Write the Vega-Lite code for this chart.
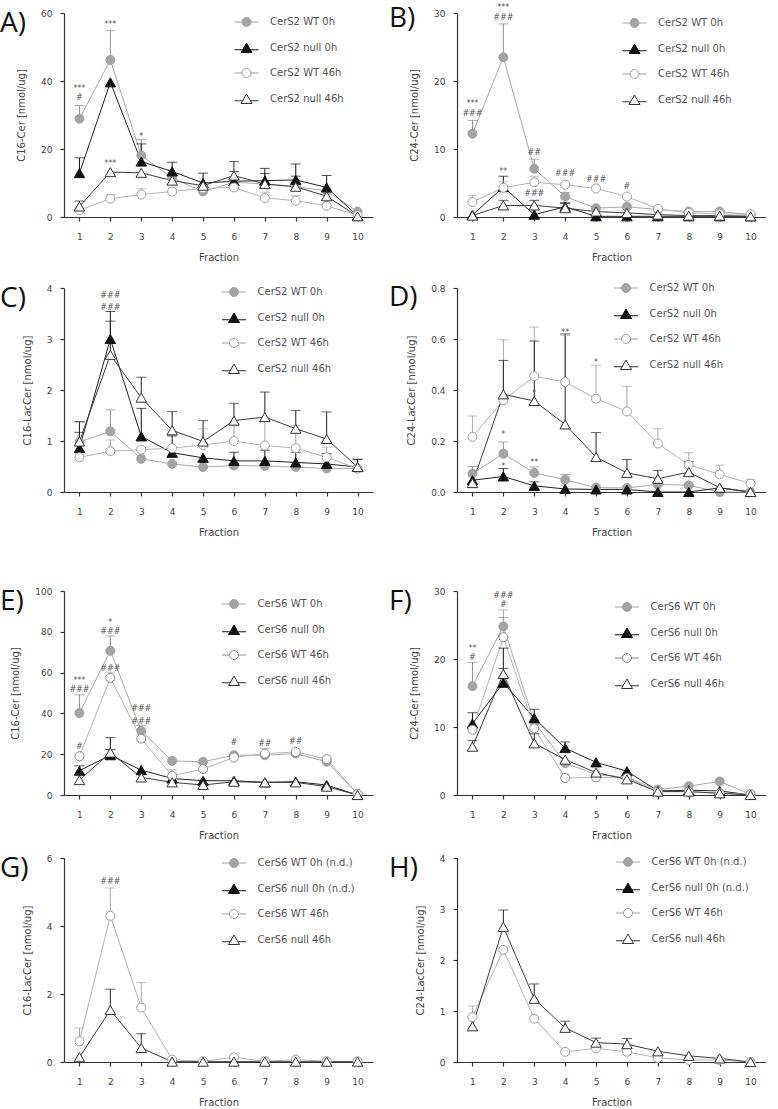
{
"$schema":"https://vega.github.io/schema/vega-lite/v6.json",
"padding":{"left":0,"top":4,"right":0,"bottom":0},
"datasets":{
"pts":[
{"p":"A","s":"CerS2 WT 0h","f":1,"y":28.9,"e":32.8},{"p":"A","s":"CerS2 WT 0h","f":2,"y":46.2,"e":54.8},{"p":"A","s":"CerS2 WT 0h","f":3,"y":18.1,"e":22.8},{"p":"A","s":"CerS2 WT 0h","f":4,"y":11.5},{"p":"A","s":"CerS2 WT 0h","f":5,"y":7.5},{"p":"A","s":"CerS2 WT 0h","f":6,"y":10.2},{"p":"A","s":"CerS2 WT 0h","f":7,"y":9.7},{"p":"A","s":"CerS2 WT 0h","f":8,"y":8.9},{"p":"A","s":"CerS2 WT 0h","f":9,"y":7.7},{"p":"A","s":"CerS2 WT 0h","f":10,"y":1.6},
{"p":"A","s":"CerS2 null 0h","f":1,"y":12.9,"e":17.4},{"p":"A","s":"CerS2 null 0h","f":2,"y":39.6},{"p":"A","s":"CerS2 null 0h","f":3,"y":16.3,"e":21.5},{"p":"A","s":"CerS2 null 0h","f":4,"y":13.4,"e":16.1},{"p":"A","s":"CerS2 null 0h","f":5,"y":10.0,"e":12.9},{"p":"A","s":"CerS2 null 0h","f":6,"y":10.5,"e":13.4},{"p":"A","s":"CerS2 null 0h","f":7,"y":10.7,"e":14.3},{"p":"A","s":"CerS2 null 0h","f":8,"y":10.9,"e":15.6},{"p":"A","s":"CerS2 null 0h","f":9,"y":8.7,"e":12.2},{"p":"A","s":"CerS2 null 0h","f":10,"y":0.3},
{"p":"A","s":"CerS2 WT 46h","f":1,"y":2.0},{"p":"A","s":"CerS2 WT 46h","f":2,"y":5.4,"e":6.6},{"p":"A","s":"CerS2 WT 46h","f":3,"y":6.6,"e":8.3},{"p":"A","s":"CerS2 WT 46h","f":4,"y":7.5},{"p":"A","s":"CerS2 WT 46h","f":5,"y":8.4},{"p":"A","s":"CerS2 WT 46h","f":6,"y":8.7},{"p":"A","s":"CerS2 WT 46h","f":7,"y":5.6,"e":7.3},{"p":"A","s":"CerS2 WT 46h","f":8,"y":4.8,"e":6.3},{"p":"A","s":"CerS2 WT 46h","f":9,"y":3.3},{"p":"A","s":"CerS2 WT 46h","f":10,"y":0.5},
{"p":"A","s":"CerS2 null 46h","f":1,"y":3.1,"e":4.7},{"p":"A","s":"CerS2 null 46h","f":2,"y":13.2},{"p":"A","s":"CerS2 null 46h","f":3,"y":13.0},{"p":"A","s":"CerS2 null 46h","f":4,"y":10.7},{"p":"A","s":"CerS2 null 46h","f":5,"y":9.2},{"p":"A","s":"CerS2 null 46h","f":6,"y":12.2,"e":16.3},{"p":"A","s":"CerS2 null 46h","f":7,"y":9.7,"e":12.8},{"p":"A","s":"CerS2 null 46h","f":8,"y":8.9,"e":12.0},{"p":"A","s":"CerS2 null 46h","f":9,"y":6.1},{"p":"A","s":"CerS2 null 46h","f":10,"y":0.2},

{"p":"B","s":"CerS2 WT 0h","f":1,"y":12.25,"e":14.2},{"p":"B","s":"CerS2 WT 0h","f":2,"y":23.5,"e":28.4},{"p":"B","s":"CerS2 WT 0h","f":3,"y":7.1,"e":8.5},{"p":"B","s":"CerS2 WT 0h","f":4,"y":3.0,"e":3.6},{"p":"B","s":"CerS2 WT 0h","f":5,"y":1.3},{"p":"B","s":"CerS2 WT 0h","f":6,"y":1.5},{"p":"B","s":"CerS2 WT 0h","f":7,"y":1.1},{"p":"B","s":"CerS2 WT 0h","f":8,"y":0.8},{"p":"B","s":"CerS2 WT 0h","f":9,"y":0.8},{"p":"B","s":"CerS2 WT 0h","f":10,"y":0.35},
{"p":"B","s":"CerS2 null 0h","f":1,"y":0.3},{"p":"B","s":"CerS2 null 0h","f":2,"y":4.4,"e":6.0},{"p":"B","s":"CerS2 null 0h","f":3,"y":0.35},{"p":"B","s":"CerS2 null 0h","f":4,"y":1.5,"e":2.1},{"p":"B","s":"CerS2 null 0h","f":5,"y":0.1},{"p":"B","s":"CerS2 null 0h","f":6,"y":0.1},{"p":"B","s":"CerS2 null 0h","f":7,"y":0.1},{"p":"B","s":"CerS2 null 0h","f":8,"y":0.1},{"p":"B","s":"CerS2 null 0h","f":9,"y":0.1},{"p":"B","s":"CerS2 null 0h","f":10,"y":0.1},
{"p":"B","s":"CerS2 WT 46h","f":1,"y":2.2,"e":3.2},{"p":"B","s":"CerS2 WT 46h","f":2,"y":4.3,"e":5.2},{"p":"B","s":"CerS2 WT 46h","f":3,"y":5.1,"e":6.0},{"p":"B","s":"CerS2 WT 46h","f":4,"y":4.75},{"p":"B","s":"CerS2 WT 46h","f":5,"y":4.2},{"p":"B","s":"CerS2 WT 46h","f":6,"y":3.0},{"p":"B","s":"CerS2 WT 46h","f":7,"y":1.2},{"p":"B","s":"CerS2 WT 46h","f":8,"y":0.6},{"p":"B","s":"CerS2 WT 46h","f":9,"y":0.45},{"p":"B","s":"CerS2 WT 46h","f":10,"y":0.4},
{"p":"B","s":"CerS2 null 46h","f":1,"y":0.2},{"p":"B","s":"CerS2 null 46h","f":2,"y":1.7,"e":2.45},{"p":"B","s":"CerS2 null 46h","f":3,"y":1.7,"e":2.45},{"p":"B","s":"CerS2 null 46h","f":4,"y":1.3,"e":2.0},{"p":"B","s":"CerS2 null 46h","f":5,"y":0.8},{"p":"B","s":"CerS2 null 46h","f":6,"y":0.6},{"p":"B","s":"CerS2 null 46h","f":7,"y":0.35},{"p":"B","s":"CerS2 null 46h","f":8,"y":0.2},{"p":"B","s":"CerS2 null 46h","f":9,"y":0.2},{"p":"B","s":"CerS2 null 46h","f":10,"y":0.1},

{"p":"C","s":"CerS2 WT 0h","f":1,"y":0.98,"e":1.37},{"p":"C","s":"CerS2 WT 0h","f":2,"y":1.19,"e":1.61},{"p":"C","s":"CerS2 WT 0h","f":3,"y":0.65},{"p":"C","s":"CerS2 WT 0h","f":4,"y":0.55},{"p":"C","s":"CerS2 WT 0h","f":5,"y":0.49},{"p":"C","s":"CerS2 WT 0h","f":6,"y":0.52},{"p":"C","s":"CerS2 WT 0h","f":7,"y":0.51},{"p":"C","s":"CerS2 WT 0h","f":8,"y":0.49},{"p":"C","s":"CerS2 WT 0h","f":9,"y":0.46},{"p":"C","s":"CerS2 WT 0h","f":10,"y":0.46},
{"p":"C","s":"CerS2 null 0h","f":1,"y":0.86,"e":1.17},{"p":"C","s":"CerS2 null 0h","f":2,"y":3.0,"e":3.54},{"p":"C","s":"CerS2 null 0h","f":3,"y":1.09,"e":1.64},{"p":"C","s":"CerS2 null 0h","f":4,"y":0.77,"e":1.1},{"p":"C","s":"CerS2 null 0h","f":5,"y":0.67},{"p":"C","s":"CerS2 null 0h","f":6,"y":0.61,"e":0.78},{"p":"C","s":"CerS2 null 0h","f":7,"y":0.61,"e":0.82},{"p":"C","s":"CerS2 null 0h","f":8,"y":0.58,"e":0.78},{"p":"C","s":"CerS2 null 0h","f":9,"y":0.55,"e":0.75},{"p":"C","s":"CerS2 null 0h","f":10,"y":0.49,"e":0.64},
{"p":"C","s":"CerS2 WT 46h","f":1,"y":0.68},{"p":"C","s":"CerS2 WT 46h","f":2,"y":0.8,"e":1.02},{"p":"C","s":"CerS2 WT 46h","f":3,"y":0.83,"e":0.87},{"p":"C","s":"CerS2 WT 46h","f":4,"y":0.86},{"p":"C","s":"CerS2 WT 46h","f":5,"y":0.92,"e":1.24},{"p":"C","s":"CerS2 WT 46h","f":6,"y":1.0,"e":1.3},{"p":"C","s":"CerS2 WT 46h","f":7,"y":0.91,"e":1.38},{"p":"C","s":"CerS2 WT 46h","f":8,"y":0.86,"e":1.3},{"p":"C","s":"CerS2 WT 46h","f":9,"y":0.68,"e":0.88},{"p":"C","s":"CerS2 WT 46h","f":10,"y":0.46},
{"p":"C","s":"CerS2 null 46h","f":1,"y":0.99,"e":1.38},{"p":"C","s":"CerS2 null 46h","f":2,"y":2.69,"e":3.35},{"p":"C","s":"CerS2 null 46h","f":3,"y":1.85,"e":2.25},{"p":"C","s":"CerS2 null 46h","f":4,"y":1.21,"e":1.58},{"p":"C","s":"CerS2 null 46h","f":5,"y":0.99,"e":1.4},{"p":"C","s":"CerS2 null 46h","f":6,"y":1.4,"e":1.74},{"p":"C","s":"CerS2 null 46h","f":7,"y":1.47,"e":1.96},{"p":"C","s":"CerS2 null 46h","f":8,"y":1.24,"e":1.6},{"p":"C","s":"CerS2 null 46h","f":9,"y":1.04,"e":1.57},{"p":"C","s":"CerS2 null 46h","f":10,"y":0.49,"e":0.64},

{"p":"D","s":"CerS2 WT 0h","f":1,"y":0.072,"e":0.1},{"p":"D","s":"CerS2 WT 0h","f":2,"y":0.15,"e":0.196},{"p":"D","s":"CerS2 WT 0h","f":3,"y":0.075,"e":0.098},{"p":"D","s":"CerS2 WT 0h","f":4,"y":0.048,"e":0.069},{"p":"D","s":"CerS2 WT 0h","f":5,"y":0.017},{"p":"D","s":"CerS2 WT 0h","f":6,"y":0.016},{"p":"D","s":"CerS2 WT 0h","f":7,"y":0.03},{"p":"D","s":"CerS2 WT 0h","f":8,"y":0.026},{"p":"D","s":"CerS2 WT 0h","f":9,"y":0},{"p":"D","s":"CerS2 WT 0h","f":10,"y":0},
{"p":"D","s":"CerS2 null 0h","f":1,"y":0.046},{"p":"D","s":"CerS2 null 0h","f":2,"y":0.061,"e":0.092},{"p":"D","s":"CerS2 null 0h","f":3,"y":0.024,"e":0.04},{"p":"D","s":"CerS2 null 0h","f":4,"y":0.012},{"p":"D","s":"CerS2 null 0h","f":5,"y":0.01},{"p":"D","s":"CerS2 null 0h","f":6,"y":0.01},{"p":"D","s":"CerS2 null 0h","f":7,"y":0},{"p":"D","s":"CerS2 null 0h","f":8,"y":0},{"p":"D","s":"CerS2 null 0h","f":9,"y":0.016},{"p":"D","s":"CerS2 null 0h","f":10,"y":0},
{"p":"D","s":"CerS2 WT 46h","f":1,"y":0.216,"e":0.298},{"p":"D","s":"CerS2 WT 46h","f":2,"y":0.36,"e":0.597},{"p":"D","s":"CerS2 WT 46h","f":3,"y":0.454,"e":0.647},{"p":"D","s":"CerS2 WT 46h","f":4,"y":0.431,"e":0.614},{"p":"D","s":"CerS2 WT 46h","f":5,"y":0.366,"e":0.497},{"p":"D","s":"CerS2 WT 46h","f":6,"y":0.316,"e":0.414},{"p":"D","s":"CerS2 WT 46h","f":7,"y":0.19,"e":0.248},{"p":"D","s":"CerS2 WT 46h","f":8,"y":0.107,"e":0.154},{"p":"D","s":"CerS2 WT 46h","f":9,"y":0.069,"e":0.105},{"p":"D","s":"CerS2 WT 46h","f":10,"y":0.033,"e":0.05},
{"p":"D","s":"CerS2 null 46h","f":1,"y":0.035},{"p":"D","s":"CerS2 null 46h","f":2,"y":0.383,"e":0.516},{"p":"D","s":"CerS2 null 46h","f":3,"y":0.357,"e":0.592},{"p":"D","s":"CerS2 null 46h","f":4,"y":0.265,"e":0.62},{"p":"D","s":"CerS2 null 46h","f":5,"y":0.137,"e":0.233},{"p":"D","s":"CerS2 null 46h","f":6,"y":0.075,"e":0.127},{"p":"D","s":"CerS2 null 46h","f":7,"y":0.052,"e":0.085},{"p":"D","s":"CerS2 null 46h","f":8,"y":0.078,"e":0.12},{"p":"D","s":"CerS2 null 46h","f":9,"y":0.017},{"p":"D","s":"CerS2 null 46h","f":10,"y":0},

{"p":"E","s":"CerS6 WT 0h","f":1,"y":40.2,"e":49.1},{"p":"E","s":"CerS6 WT 0h","f":2,"y":70.7,"e":78},{"p":"E","s":"CerS6 WT 0h","f":3,"y":31.4,"e":34.1},{"p":"E","s":"CerS6 WT 0h","f":4,"y":16.7},{"p":"E","s":"CerS6 WT 0h","f":5,"y":16.3},{"p":"E","s":"CerS6 WT 0h","f":6,"y":19.5},{"p":"E","s":"CerS6 WT 0h","f":7,"y":19.5},{"p":"E","s":"CerS6 WT 0h","f":8,"y":20.3},{"p":"E","s":"CerS6 WT 0h","f":9,"y":16.3},{"p":"E","s":"CerS6 WT 0h","f":10,"y":0.5},
{"p":"E","s":"CerS6 null 0h","f":1,"y":11.9,"e":14.3},{"p":"E","s":"CerS6 null 0h","f":2,"y":19.5,"e":28.1},{"p":"E","s":"CerS6 null 0h","f":3,"y":12.2},{"p":"E","s":"CerS6 null 0h","f":4,"y":8.1},{"p":"E","s":"CerS6 null 0h","f":5,"y":7.0},{"p":"E","s":"CerS6 null 0h","f":6,"y":7.0},{"p":"E","s":"CerS6 null 0h","f":7,"y":6.2},{"p":"E","s":"CerS6 null 0h","f":8,"y":6.5},{"p":"E","s":"CerS6 null 0h","f":9,"y":4.9},{"p":"E","s":"CerS6 null 0h","f":10,"y":0},
{"p":"E","s":"CerS6 WT 46h","f":1,"y":19.0},{"p":"E","s":"CerS6 WT 46h","f":2,"y":57.4,"e":60.2},{"p":"E","s":"CerS6 WT 46h","f":3,"y":27.6},{"p":"E","s":"CerS6 WT 46h","f":4,"y":9.4,"e":12.5},{"p":"E","s":"CerS6 WT 46h","f":5,"y":12.7},{"p":"E","s":"CerS6 WT 46h","f":6,"y":18.4},{"p":"E","s":"CerS6 WT 46h","f":7,"y":20.3,"e":22.8},{"p":"E","s":"CerS6 WT 46h","f":8,"y":21.1},{"p":"E","s":"CerS6 WT 46h","f":9,"y":17.6},{"p":"E","s":"CerS6 WT 46h","f":10,"y":0.5},
{"p":"E","s":"CerS6 null 46h","f":1,"y":7.3},{"p":"E","s":"CerS6 null 46h","f":2,"y":20.8,"e":22.3},{"p":"E","s":"CerS6 null 46h","f":3,"y":8.6},{"p":"E","s":"CerS6 null 46h","f":4,"y":6.2},{"p":"E","s":"CerS6 null 46h","f":5,"y":4.9},{"p":"E","s":"CerS6 null 46h","f":6,"y":6.5},{"p":"E","s":"CerS6 null 46h","f":7,"y":6.2},{"p":"E","s":"CerS6 null 46h","f":8,"y":6.2},{"p":"E","s":"CerS6 null 46h","f":9,"y":4.1},{"p":"E","s":"CerS6 null 46h","f":10,"y":0},

{"p":"F","s":"CerS6 WT 0h","f":1,"y":16.0,"e":19.5},{"p":"F","s":"CerS6 WT 0h","f":2,"y":24.8,"e":26.1},{"p":"F","s":"CerS6 WT 0h","f":3,"y":10.7},{"p":"F","s":"CerS6 WT 0h","f":4,"y":4.7},{"p":"F","s":"CerS6 WT 0h","f":5,"y":3.0},{"p":"F","s":"CerS6 WT 0h","f":6,"y":2.6},{"p":"F","s":"CerS6 WT 0h","f":7,"y":0.8},{"p":"F","s":"CerS6 WT 0h","f":8,"y":1.3},{"p":"F","s":"CerS6 WT 0h","f":9,"y":2.0},{"p":"F","s":"CerS6 WT 0h","f":10,"y":0.1},
{"p":"F","s":"CerS6 null 0h","f":1,"y":10.5,"e":12.1},{"p":"F","s":"CerS6 null 0h","f":2,"y":16.5,"e":21.6},{"p":"F","s":"CerS6 null 0h","f":3,"y":11.3,"e":12.6},{"p":"F","s":"CerS6 null 0h","f":4,"y":6.9,"e":7.8},{"p":"F","s":"CerS6 null 0h","f":5,"y":4.8},{"p":"F","s":"CerS6 null 0h","f":6,"y":3.5},{"p":"F","s":"CerS6 null 0h","f":7,"y":0.6},{"p":"F","s":"CerS6 null 0h","f":8,"y":0.7},{"p":"F","s":"CerS6 null 0h","f":9,"y":0.6},{"p":"F","s":"CerS6 null 0h","f":10,"y":0},
{"p":"F","s":"CerS6 WT 46h","f":1,"y":9.6},{"p":"F","s":"CerS6 WT 46h","f":2,"y":23.2,"e":27.2},{"p":"F","s":"CerS6 WT 46h","f":3,"y":9.8},{"p":"F","s":"CerS6 WT 46h","f":4,"y":2.5,"e":3.1},{"p":"F","s":"CerS6 WT 46h","f":5,"y":2.6},{"p":"F","s":"CerS6 WT 46h","f":6,"y":2.5},{"p":"F","s":"CerS6 WT 46h","f":7,"y":0.5},{"p":"F","s":"CerS6 WT 46h","f":8,"y":0.5},{"p":"F","s":"CerS6 WT 46h","f":9,"y":0.25},{"p":"F","s":"CerS6 WT 46h","f":10,"y":0.1},
{"p":"F","s":"CerS6 null 46h","f":1,"y":7.1,"e":8.0},{"p":"F","s":"CerS6 null 46h","f":2,"y":17.8,"e":18.6},{"p":"F","s":"CerS6 null 46h","f":3,"y":7.6,"e":9.0},{"p":"F","s":"CerS6 null 46h","f":4,"y":5.2},{"p":"F","s":"CerS6 null 46h","f":5,"y":3.3},{"p":"F","s":"CerS6 null 46h","f":6,"y":2.3},{"p":"F","s":"CerS6 null 46h","f":7,"y":0.5},{"p":"F","s":"CerS6 null 46h","f":8,"y":0.5},{"p":"F","s":"CerS6 null 46h","f":9,"y":0.25},{"p":"F","s":"CerS6 null 46h","f":10,"y":0},

{"p":"G","s":"CerS6 WT 46h","f":1,"y":0.61,"e":1.0},{"p":"G","s":"CerS6 WT 46h","f":2,"y":4.3,"e":5.12},{"p":"G","s":"CerS6 WT 46h","f":3,"y":1.6,"e":2.34},{"p":"G","s":"CerS6 WT 46h","f":4,"y":0.07},{"p":"G","s":"CerS6 WT 46h","f":5,"y":0.02},{"p":"G","s":"CerS6 WT 46h","f":6,"y":0.14},{"p":"G","s":"CerS6 WT 46h","f":7,"y":0.02},{"p":"G","s":"CerS6 WT 46h","f":8,"y":0.07},{"p":"G","s":"CerS6 WT 46h","f":9,"y":0.02},{"p":"G","s":"CerS6 WT 46h","f":10,"y":0.02},
{"p":"G","s":"CerS6 null 46h","f":1,"y":0.14},{"p":"G","s":"CerS6 null 46h","f":2,"y":1.53,"e":2.14},{"p":"G","s":"CerS6 null 46h","f":3,"y":0.41,"e":0.83},{"p":"G","s":"CerS6 null 46h","f":4,"y":0.01},{"p":"G","s":"CerS6 null 46h","f":5,"y":0.01},{"p":"G","s":"CerS6 null 46h","f":6,"y":0.01},{"p":"G","s":"CerS6 null 46h","f":7,"y":0.01},{"p":"G","s":"CerS6 null 46h","f":8,"y":0.01},{"p":"G","s":"CerS6 null 46h","f":9,"y":0.01},{"p":"G","s":"CerS6 null 46h","f":10,"y":0.01},

{"p":"H","s":"CerS6 WT 46h","f":1,"y":0.88,"e":1.1},{"p":"H","s":"CerS6 WT 46h","f":2,"y":2.2},{"p":"H","s":"CerS6 WT 46h","f":3,"y":0.85},{"p":"H","s":"CerS6 WT 46h","f":4,"y":0.2},{"p":"H","s":"CerS6 WT 46h","f":5,"y":0.27},{"p":"H","s":"CerS6 WT 46h","f":6,"y":0.2},{"p":"H","s":"CerS6 WT 46h","f":7,"y":0.08},{"p":"H","s":"CerS6 WT 46h","f":8,"y":0.04},{"p":"H","s":"CerS6 WT 46h","f":9,"y":0.04},{"p":"H","s":"CerS6 WT 46h","f":10,"y":0},
{"p":"H","s":"CerS6 null 46h","f":1,"y":0.7},{"p":"H","s":"CerS6 null 46h","f":2,"y":2.65,"e":2.98},{"p":"H","s":"CerS6 null 46h","f":3,"y":1.24,"e":1.53},{"p":"H","s":"CerS6 null 46h","f":4,"y":0.67,"e":0.8},{"p":"H","s":"CerS6 null 46h","f":5,"y":0.38,"e":0.47},{"p":"H","s":"CerS6 null 46h","f":6,"y":0.35,"e":0.46},{"p":"H","s":"CerS6 null 46h","f":7,"y":0.21},{"p":"H","s":"CerS6 null 46h","f":8,"y":0.12},{"p":"H","s":"CerS6 null 46h","f":9,"y":0.07},{"p":"H","s":"CerS6 null 46h","f":10,"y":0}
],
"ann":[
{"p":"A","f":1,"y":37.6,"t":"***"},{"p":"A","f":1,"y":35.0,"t":"#"},{"p":"A","f":2,"y":56.5,"t":"***"},{"p":"A","f":2,"y":15.5,"t":"***"},{"p":"A","f":3,"y":23.5,"t":"*"},
{"p":"B","f":1,"y":16.6,"t":"***"},{"p":"B","f":1,"y":15.1,"t":"###"},{"p":"B","f":2,"y":30.7,"t":"***"},{"p":"B","f":2,"y":29.3,"t":"###"},{"p":"B","f":2,"y":6.6,"t":"**"},{"p":"B","f":3,"y":9.4,"t":"##"},{"p":"B","f":3,"y":3.4,"t":"###"},{"p":"B","f":4,"y":6.3,"t":"###"},{"p":"B","f":5,"y":5.4,"t":"###"},{"p":"B","f":6,"y":4.4,"t":"#"},
{"p":"C","f":2,"y":3.84,"t":"###"},{"p":"C","f":2,"y":3.61,"t":"###"},
{"p":"D","f":2,"y":0.224,"t":"*"},{"p":"D","f":2,"y":0.1,"t":"*"},{"p":"D","f":3,"y":0.113,"t":"**"},{"p":"D","f":3,"y":0.384,"t":"*"},{"p":"D","f":4,"y":0.625,"t":"**"},{"p":"D","f":5,"y":0.506,"t":"*"},
{"p":"E","f":1,"y":56,"t":"***"},{"p":"E","f":1,"y":51.7,"t":"###"},{"p":"E","f":1,"y":23.4,"t":"#"},{"p":"E","f":2,"y":84.4,"t":"*"},{"p":"E","f":2,"y":80,"t":"###"},{"p":"E","f":2,"y":62,"t":"###"},{"p":"E","f":3,"y":42.4,"t":"###"},{"p":"E","f":3,"y":36,"t":"###"},{"p":"E","f":6,"y":25.4,"t":"#"},{"p":"E","f":7,"y":24.9,"t":"##"},{"p":"E","f":8,"y":25.9,"t":"##"},
{"p":"F","f":1,"y":21.4,"t":"**"},{"p":"F","f":1,"y":20.2,"t":"#"},{"p":"F","f":2,"y":29.3,"t":"###"},{"p":"F","f":2,"y":27.9,"t":"#"},
{"p":"G","f":2,"y":5.3,"t":"###"}
]
},
"vconcat":[
{"vconcat":[
{"hconcat":[
{"width":309,"height":204,"title":{"text":"A)","dx":-64},"data":{"name":"pts"},
"encoding":{"x":{"field":"f","type":"ordinal","scale":{"type":"point","padding":0.5},"axis":{"title":"Fraction"}},"y":{"field":"y","type":"quantitative","title":"C16-Cer [nmol/ug]","scale":{"domain":[0,60]},"axis":{"values":[0,20,40,60]}}},
"layer":[
{"transform":[{"filter":"datum.p==='A'"}],"mark":{"type":"line","strokeWidth":1},"encoding":{"stroke":{"field":"s","scale":{"domain":["CerS2 WT 0h","CerS2 null 0h","CerS2 WT 46h","CerS2 null 46h"],"range":["#a9a9a9","#222222","#b5b5b5","#3a3a3a"]},"legend":null}}},
{"transform":[{"filter":"datum.p==='A' && isValid(datum.e)"}],"mark":{"type":"rule","strokeWidth":1},"encoding":{"y2":{"field":"e"},"color":{"field":"s","scale":{"domain":["CerS2 WT 0h","CerS2 null 0h","CerS2 WT 46h","CerS2 null 46h"],"range":["#8f8f8f","#111111","#a8a8a8","#222222"]},"legend":null}}},
{"transform":[{"filter":"datum.p==='A' && isValid(datum.e)"}],"mark":{"type":"tick","thickness":1,"size":10},"encoding":{"y":{"field":"e","type":"quantitative","title":"C16-Cer [nmol/ug]"},"color":{"field":"s","scale":{"domain":["CerS2 WT 0h","CerS2 null 0h","CerS2 WT 46h","CerS2 null 46h"],"range":["#8f8f8f","#111111","#a8a8a8","#222222"]},"legend":null}}},
{"transform":[{"filter":"datum.p==='A'"}],"mark":{"type":"point","filled":true,"opacity":1,"strokeWidth":1},"encoding":{"shape":{"field":"s","scale":{"domain":["CerS2 WT 0h","CerS2 null 0h","CerS2 WT 46h","CerS2 null 46h"],"range":["circle","triangle-up","circle","triangle-up"]},"legend":null},"fill":{"field":"s","scale":{"domain":["CerS2 WT 0h","CerS2 null 0h","CerS2 WT 46h","CerS2 null 46h"],"range":["#a4a4a4","#111111","#ffffff","#ffffff"]},"legend":null},"stroke":{"field":"s","scale":{"domain":["CerS2 WT 0h","CerS2 null 0h","CerS2 WT 46h","CerS2 null 46h"],"range":["#a4a4a4","#111111","#a0a0a0","#333333"]},"legend":null},"size":{"field":"s","scale":{"type":"ordinal","domain":["CerS2 WT 0h","CerS2 null 0h","CerS2 WT 46h","CerS2 null 46h"],"range":[81,110,81,110]},"legend":null}}},
{"transform":[{"filter":"false"}],"mark":{"type":"point","filled":true,"opacity":1,"strokeWidth":1},"encoding":{"shape":{"field":"s","scale":{"domain":["CerS2 WT 0h","CerS2 null 0h","CerS2 WT 46h","CerS2 null 46h"],"range":["M-2.4,0L-0.9,0M0.9,0L2.4,0M-0.9,0A0.9,0.9,0,1,0,0.9,0A0.9,0.9,0,1,0,-0.9,0Z","M-2.4,0.35L-0.78,0.35M0.78,0.35L2.4,0.35M0,-1L1.1,0.9L-1.1,0.9Z","M-2.4,0L-0.9,0M0.9,0L2.4,0M-0.9,0A0.9,0.9,0,1,0,0.9,0A0.9,0.9,0,1,0,-0.9,0Z","M-2.4,0.35L-0.78,0.35M0.78,0.35L2.4,0.35M0,-1L1.1,0.9L-1.1,0.9Z"]},"legend":{"title":null,"legendX":177,"legendY":3.5}},"fill":{"field":"s","scale":{"domain":["CerS2 WT 0h","CerS2 null 0h","CerS2 WT 46h","CerS2 null 46h"],"range":["#a4a4a4","#111111","#ffffff","#ffffff"]},"legend":{"title":null,"legendX":177,"legendY":3.5}},"stroke":{"field":"s","scale":{"domain":["CerS2 WT 0h","CerS2 null 0h","CerS2 WT 46h","CerS2 null 46h"],"range":["#a4a4a4","#111111","#a0a0a0","#333333"]},"legend":{"title":null,"legendX":177,"legendY":3.5}}}},
{"data":{"name":"ann"},"transform":[{"filter":"datum.p==='A'"}],"mark":{"type":"text","fontSize":8,"color":"#555555"},"encoding":{"text":{"field":"t"}}}
],
"resolve":{"scale":{"shape":"independent","fill":"independent","stroke":"independent","size":"independent"}}},

{"width":309,"height":204,"title":{"text":"B)","dx":-68},"data":{"name":"pts"},
"encoding":{"x":{"field":"f","type":"ordinal","scale":{"type":"point","padding":0.5},"axis":{"title":"Fraction"}},"y":{"field":"y","type":"quantitative","title":"C24-Cer [nmol/ug]","scale":{"domain":[0,30]},"axis":{"values":[0,10,20,30]}}},
"layer":[
{"transform":[{"filter":"datum.p==='B'"}],"mark":{"type":"line","strokeWidth":1},"encoding":{"stroke":{"field":"s","scale":{"domain":["CerS2 WT 0h","CerS2 null 0h","CerS2 WT 46h","CerS2 null 46h"],"range":["#a9a9a9","#222222","#b5b5b5","#3a3a3a"]},"legend":null}}},
{"transform":[{"filter":"datum.p==='B' && isValid(datum.e)"}],"mark":{"type":"rule","strokeWidth":1},"encoding":{"y2":{"field":"e"},"color":{"field":"s","scale":{"domain":["CerS2 WT 0h","CerS2 null 0h","CerS2 WT 46h","CerS2 null 46h"],"range":["#8f8f8f","#111111","#a8a8a8","#222222"]},"legend":null}}},
{"transform":[{"filter":"datum.p==='B' && isValid(datum.e)"}],"mark":{"type":"tick","thickness":1,"size":10},"encoding":{"y":{"field":"e","type":"quantitative","title":"C24-Cer [nmol/ug]"},"color":{"field":"s","scale":{"domain":["CerS2 WT 0h","CerS2 null 0h","CerS2 WT 46h","CerS2 null 46h"],"range":["#8f8f8f","#111111","#a8a8a8","#222222"]},"legend":null}}},
{"transform":[{"filter":"datum.p==='B'"}],"mark":{"type":"point","filled":true,"opacity":1,"strokeWidth":1},"encoding":{"shape":{"field":"s","scale":{"domain":["CerS2 WT 0h","CerS2 null 0h","CerS2 WT 46h","CerS2 null 46h"],"range":["circle","triangle-up","circle","triangle-up"]},"legend":null},"fill":{"field":"s","scale":{"domain":["CerS2 WT 0h","CerS2 null 0h","CerS2 WT 46h","CerS2 null 46h"],"range":["#a4a4a4","#111111","#ffffff","#ffffff"]},"legend":null},"stroke":{"field":"s","scale":{"domain":["CerS2 WT 0h","CerS2 null 0h","CerS2 WT 46h","CerS2 null 46h"],"range":["#a4a4a4","#111111","#a0a0a0","#333333"]},"legend":null},"size":{"field":"s","scale":{"type":"ordinal","domain":["CerS2 WT 0h","CerS2 null 0h","CerS2 WT 46h","CerS2 null 46h"],"range":[81,110,81,110]},"legend":null}}},
{"transform":[{"filter":"false"}],"mark":{"type":"point","filled":true,"opacity":1,"strokeWidth":1},"encoding":{"shape":{"field":"s","scale":{"domain":["CerS2 WT 0h","CerS2 null 0h","CerS2 WT 46h","CerS2 null 46h"],"range":["M-2.4,0L-0.9,0M0.9,0L2.4,0M-0.9,0A0.9,0.9,0,1,0,0.9,0A0.9,0.9,0,1,0,-0.9,0Z","M-2.4,0.35L-0.78,0.35M0.78,0.35L2.4,0.35M0,-1L1.1,0.9L-1.1,0.9Z","M-2.4,0L-0.9,0M0.9,0L2.4,0M-0.9,0A0.9,0.9,0,1,0,0.9,0A0.9,0.9,0,1,0,-0.9,0Z","M-2.4,0.35L-0.78,0.35M0.78,0.35L2.4,0.35M0,-1L1.1,0.9L-1.1,0.9Z"]},"legend":{"title":null,"legendX":172,"legendY":4.5}},"fill":{"field":"s","scale":{"domain":["CerS2 WT 0h","CerS2 null 0h","CerS2 WT 46h","CerS2 null 46h"],"range":["#a4a4a4","#111111","#ffffff","#ffffff"]},"legend":{"title":null,"legendX":172,"legendY":4.5}},"stroke":{"field":"s","scale":{"domain":["CerS2 WT 0h","CerS2 null 0h","CerS2 WT 46h","CerS2 null 46h"],"range":["#a4a4a4","#111111","#a0a0a0","#333333"]},"legend":{"title":null,"legendX":172,"legendY":4.5}}}},
{"data":{"name":"ann"},"transform":[{"filter":"datum.p==='B'"}],"mark":{"type":"text","fontSize":8,"color":"#555555"},"encoding":{"text":{"field":"t"}}}
],
"resolve":{"scale":{"shape":"independent","fill":"independent","stroke":"independent","size":"independent"}}}
],"spacing":16},

{"hconcat":[
{"width":309,"height":204,"title":{"text":"C)","dx":-64},"data":{"name":"pts"},
"encoding":{"x":{"field":"f","type":"ordinal","scale":{"type":"point","padding":0.5},"axis":{"title":"Fraction"}},"y":{"field":"y","type":"quantitative","title":"C16-LacCer [nmol/ug]","scale":{"domain":[0,4]},"axis":{"values":[0,1,2,3,4]}}},
"layer":[
{"transform":[{"filter":"datum.p==='C'"}],"mark":{"type":"line","strokeWidth":1},"encoding":{"stroke":{"field":"s","scale":{"domain":["CerS2 WT 0h","CerS2 null 0h","CerS2 WT 46h","CerS2 null 46h"],"range":["#a9a9a9","#222222","#b5b5b5","#3a3a3a"]},"legend":null}}},
{"transform":[{"filter":"datum.p==='C' && isValid(datum.e)"}],"mark":{"type":"rule","strokeWidth":1},"encoding":{"y2":{"field":"e"},"color":{"field":"s","scale":{"domain":["CerS2 WT 0h","CerS2 null 0h","CerS2 WT 46h","CerS2 null 46h"],"range":["#8f8f8f","#111111","#a8a8a8","#222222"]},"legend":null}}},
{"transform":[{"filter":"datum.p==='C' && isValid(datum.e)"}],"mark":{"type":"tick","thickness":1,"size":10},"encoding":{"y":{"field":"e","type":"quantitative","title":"C16-LacCer [nmol/ug]"},"color":{"field":"s","scale":{"domain":["CerS2 WT 0h","CerS2 null 0h","CerS2 WT 46h","CerS2 null 46h"],"range":["#8f8f8f","#111111","#a8a8a8","#222222"]},"legend":null}}},
{"transform":[{"filter":"datum.p==='C'"}],"mark":{"type":"point","filled":true,"opacity":1,"strokeWidth":1},"encoding":{"shape":{"field":"s","scale":{"domain":["CerS2 WT 0h","CerS2 null 0h","CerS2 WT 46h","CerS2 null 46h"],"range":["circle","triangle-up","circle","triangle-up"]},"legend":null},"fill":{"field":"s","scale":{"domain":["CerS2 WT 0h","CerS2 null 0h","CerS2 WT 46h","CerS2 null 46h"],"range":["#a4a4a4","#111111","#ffffff","#ffffff"]},"legend":null},"stroke":{"field":"s","scale":{"domain":["CerS2 WT 0h","CerS2 null 0h","CerS2 WT 46h","CerS2 null 46h"],"range":["#a4a4a4","#111111","#a0a0a0","#333333"]},"legend":null},"size":{"field":"s","scale":{"type":"ordinal","domain":["CerS2 WT 0h","CerS2 null 0h","CerS2 WT 46h","CerS2 null 46h"],"range":[81,110,81,110]},"legend":null}}},
{"transform":[{"filter":"false"}],"mark":{"type":"point","filled":true,"opacity":1,"strokeWidth":1},"encoding":{"shape":{"field":"s","scale":{"domain":["CerS2 WT 0h","CerS2 null 0h","CerS2 WT 46h","CerS2 null 46h"],"range":["M-2.4,0L-0.9,0M0.9,0L2.4,0M-0.9,0A0.9,0.9,0,1,0,0.9,0A0.9,0.9,0,1,0,-0.9,0Z","M-2.4,0.35L-0.78,0.35M0.78,0.35L2.4,0.35M0,-1L1.1,0.9L-1.1,0.9Z","M-2.4,0L-0.9,0M0.9,0L2.4,0M-0.9,0A0.9,0.9,0,1,0,0.9,0A0.9,0.9,0,1,0,-0.9,0Z","M-2.4,0.35L-0.78,0.35M0.78,0.35L2.4,0.35M0,-1L1.1,0.9L-1.1,0.9Z"]},"legend":{"title":null,"legendX":164.5,"legendY":-1.5}},"fill":{"field":"s","scale":{"domain":["CerS2 WT 0h","CerS2 null 0h","CerS2 WT 46h","CerS2 null 46h"],"range":["#a4a4a4","#111111","#ffffff","#ffffff"]},"legend":{"title":null,"legendX":164.5,"legendY":-1.5}},"stroke":{"field":"s","scale":{"domain":["CerS2 WT 0h","CerS2 null 0h","CerS2 WT 46h","CerS2 null 46h"],"range":["#a4a4a4","#111111","#a0a0a0","#333333"]},"legend":{"title":null,"legendX":164.5,"legendY":-1.5}}}},
{"data":{"name":"ann"},"transform":[{"filter":"datum.p==='C'"}],"mark":{"type":"text","fontSize":8,"color":"#555555"},"encoding":{"text":{"field":"t"}}}
],
"resolve":{"scale":{"shape":"independent","fill":"independent","stroke":"independent","size":"independent"}}},

{"width":309,"height":204,"title":{"text":"D)","dx":-68},"data":{"name":"pts"},
"encoding":{"x":{"field":"f","type":"ordinal","scale":{"type":"point","padding":0.5},"axis":{"title":"Fraction"}},"y":{"field":"y","type":"quantitative","title":"C24-LacCer [nmol/ug]","scale":{"domain":[0,0.8]},"axis":{"values":[0,0.2,0.4,0.6,0.8],"format":".1f"}}},
"layer":[
{"transform":[{"filter":"datum.p==='D'"}],"mark":{"type":"line","strokeWidth":1},"encoding":{"stroke":{"field":"s","scale":{"domain":["CerS2 WT 0h","CerS2 null 0h","CerS2 WT 46h","CerS2 null 46h"],"range":["#a9a9a9","#222222","#b5b5b5","#3a3a3a"]},"legend":null}}},
{"transform":[{"filter":"datum.p==='D' && isValid(datum.e)"}],"mark":{"type":"rule","strokeWidth":1},"encoding":{"y2":{"field":"e"},"color":{"field":"s","scale":{"domain":["CerS2 WT 0h","CerS2 null 0h","CerS2 WT 46h","CerS2 null 46h"],"range":["#8f8f8f","#111111","#a8a8a8","#222222"]},"legend":null}}},
{"transform":[{"filter":"datum.p==='D' && isValid(datum.e)"}],"mark":{"type":"tick","thickness":1,"size":10},"encoding":{"y":{"field":"e","type":"quantitative","title":"C24-LacCer [nmol/ug]"},"color":{"field":"s","scale":{"domain":["CerS2 WT 0h","CerS2 null 0h","CerS2 WT 46h","CerS2 null 46h"],"range":["#8f8f8f","#111111","#a8a8a8","#222222"]},"legend":null}}},
{"transform":[{"filter":"datum.p==='D'"}],"mark":{"type":"point","filled":true,"opacity":1,"strokeWidth":1},"encoding":{"shape":{"field":"s","scale":{"domain":["CerS2 WT 0h","CerS2 null 0h","CerS2 WT 46h","CerS2 null 46h"],"range":["circle","triangle-up","circle","triangle-up"]},"legend":null},"fill":{"field":"s","scale":{"domain":["CerS2 WT 0h","CerS2 null 0h","CerS2 WT 46h","CerS2 null 46h"],"range":["#a4a4a4","#111111","#ffffff","#ffffff"]},"legend":null},"stroke":{"field":"s","scale":{"domain":["CerS2 WT 0h","CerS2 null 0h","CerS2 WT 46h","CerS2 null 46h"],"range":["#a4a4a4","#111111","#a0a0a0","#333333"]},"legend":null},"size":{"field":"s","scale":{"type":"ordinal","domain":["CerS2 WT 0h","CerS2 null 0h","CerS2 WT 46h","CerS2 null 46h"],"range":[81,110,81,110]},"legend":null}}},
{"transform":[{"filter":"false"}],"mark":{"type":"point","filled":true,"opacity":1,"strokeWidth":1},"encoding":{"shape":{"field":"s","scale":{"domain":["CerS2 WT 0h","CerS2 null 0h","CerS2 WT 46h","CerS2 null 46h"],"range":["M-2.4,0L-0.9,0M0.9,0L2.4,0M-0.9,0A0.9,0.9,0,1,0,0.9,0A0.9,0.9,0,1,0,-0.9,0Z","M-2.4,0.35L-0.78,0.35M0.78,0.35L2.4,0.35M0,-1L1.1,0.9L-1.1,0.9Z","M-2.4,0L-0.9,0M0.9,0L2.4,0M-0.9,0A0.9,0.9,0,1,0,0.9,0A0.9,0.9,0,1,0,-0.9,0Z","M-2.4,0.35L-0.78,0.35M0.78,0.35L2.4,0.35M0,-1L1.1,0.9L-1.1,0.9Z"]},"legend":{"title":null,"legendX":163.5,"legendY":-5.5}},"fill":{"field":"s","scale":{"domain":["CerS2 WT 0h","CerS2 null 0h","CerS2 WT 46h","CerS2 null 46h"],"range":["#a4a4a4","#111111","#ffffff","#ffffff"]},"legend":{"title":null,"legendX":163.5,"legendY":-5.5}},"stroke":{"field":"s","scale":{"domain":["CerS2 WT 0h","CerS2 null 0h","CerS2 WT 46h","CerS2 null 46h"],"range":["#a4a4a4","#111111","#a0a0a0","#333333"]},"legend":{"title":null,"legendX":163.5,"legendY":-5.5}}}},
{"data":{"name":"ann"},"transform":[{"filter":"datum.p==='D'"}],"mark":{"type":"text","fontSize":8,"color":"#555555"},"encoding":{"text":{"field":"t"}}}
],
"resolve":{"scale":{"shape":"independent","fill":"independent","stroke":"independent","size":"independent"}}}
],"spacing":16}
],"spacing":20},

{"vconcat":[
{"hconcat":[
{"width":309,"height":204,"title":{"text":"E)","dx":-64},"data":{"name":"pts"},
"encoding":{"x":{"field":"f","type":"ordinal","scale":{"type":"point","padding":0.5},"axis":{"title":"Fraction"}},"y":{"field":"y","type":"quantitative","title":"C16-Cer [nmol/ug]","scale":{"domain":[0,100]},"axis":{"values":[0,20,40,60,80,100]}}},
"layer":[
{"transform":[{"filter":"datum.p==='E'"}],"mark":{"type":"line","strokeWidth":1},"encoding":{"stroke":{"field":"s","scale":{"domain":["CerS6 WT 0h","CerS6 null 0h","CerS6 WT 46h","CerS6 null 46h"],"range":["#a9a9a9","#222222","#b5b5b5","#3a3a3a"]},"legend":null}}},
{"transform":[{"filter":"datum.p==='E' && isValid(datum.e)"}],"mark":{"type":"rule","strokeWidth":1},"encoding":{"y2":{"field":"e"},"color":{"field":"s","scale":{"domain":["CerS6 WT 0h","CerS6 null 0h","CerS6 WT 46h","CerS6 null 46h"],"range":["#8f8f8f","#111111","#a8a8a8","#222222"]},"legend":null}}},
{"transform":[{"filter":"datum.p==='E' && isValid(datum.e)"}],"mark":{"type":"tick","thickness":1,"size":10},"encoding":{"y":{"field":"e","type":"quantitative","title":"C16-Cer [nmol/ug]"},"color":{"field":"s","scale":{"domain":["CerS6 WT 0h","CerS6 null 0h","CerS6 WT 46h","CerS6 null 46h"],"range":["#8f8f8f","#111111","#a8a8a8","#222222"]},"legend":null}}},
{"transform":[{"filter":"datum.p==='E'"}],"mark":{"type":"point","filled":true,"opacity":1,"strokeWidth":1},"encoding":{"shape":{"field":"s","scale":{"domain":["CerS6 WT 0h","CerS6 null 0h","CerS6 WT 46h","CerS6 null 46h"],"range":["circle","triangle-up","circle","triangle-up"]},"legend":null},"fill":{"field":"s","scale":{"domain":["CerS6 WT 0h","CerS6 null 0h","CerS6 WT 46h","CerS6 null 46h"],"range":["#a4a4a4","#111111","#ffffff","#ffffff"]},"legend":null},"stroke":{"field":"s","scale":{"domain":["CerS6 WT 0h","CerS6 null 0h","CerS6 WT 46h","CerS6 null 46h"],"range":["#a4a4a4","#111111","#8c8c8c","#333333"]},"legend":null},"size":{"field":"s","scale":{"type":"ordinal","domain":["CerS6 WT 0h","CerS6 null 0h","CerS6 WT 46h","CerS6 null 46h"],"range":[81,110,81,110]},"legend":null}}},
{"transform":[{"filter":"false"}],"mark":{"type":"point","filled":true,"opacity":1,"strokeWidth":1},"encoding":{"shape":{"field":"s","scale":{"domain":["CerS6 WT 0h","CerS6 null 0h","CerS6 WT 46h","CerS6 null 46h"],"range":["M-2.4,0L-0.9,0M0.9,0L2.4,0M-0.9,0A0.9,0.9,0,1,0,0.9,0A0.9,0.9,0,1,0,-0.9,0Z","M-2.4,0.35L-0.78,0.35M0.78,0.35L2.4,0.35M0,-1L1.1,0.9L-1.1,0.9Z","M-2.4,0L-0.9,0M0.9,0L2.4,0M-0.9,0A0.9,0.9,0,1,0,0.9,0A0.9,0.9,0,1,0,-0.9,0Z","M-2.4,0.35L-0.78,0.35M0.78,0.35L2.4,0.35M0,-1L1.1,0.9L-1.1,0.9Z"]},"legend":{"title":null,"legendX":164.5,"legendY":7.5}},"fill":{"field":"s","scale":{"domain":["CerS6 WT 0h","CerS6 null 0h","CerS6 WT 46h","CerS6 null 46h"],"range":["#a4a4a4","#111111","#ffffff","#ffffff"]},"legend":{"title":null,"legendX":164.5,"legendY":7.5}},"stroke":{"field":"s","scale":{"domain":["CerS6 WT 0h","CerS6 null 0h","CerS6 WT 46h","CerS6 null 46h"],"range":["#a4a4a4","#111111","#8c8c8c","#333333"]},"legend":{"title":null,"legendX":164.5,"legendY":7.5}}}},
{"data":{"name":"ann"},"transform":[{"filter":"datum.p==='E'"}],"mark":{"type":"text","fontSize":8,"color":"#555555"},"encoding":{"text":{"field":"t"}}}
],
"resolve":{"scale":{"shape":"independent","fill":"independent","stroke":"independent","size":"independent"}}},

{"width":309,"height":204,"title":{"text":"F)","dx":-68},"data":{"name":"pts"},
"encoding":{"x":{"field":"f","type":"ordinal","scale":{"type":"point","padding":0.5},"axis":{"title":"Fraction"}},"y":{"field":"y","type":"quantitative","title":"C24-Cer [nmol/ug]","scale":{"domain":[0,30]},"axis":{"values":[0,10,20,30]}}},
"layer":[
{"transform":[{"filter":"datum.p==='F'"}],"mark":{"type":"line","strokeWidth":1},"encoding":{"stroke":{"field":"s","scale":{"domain":["CerS6 WT 0h","CerS6 null 0h","CerS6 WT 46h","CerS6 null 46h"],"range":["#a9a9a9","#222222","#b5b5b5","#3a3a3a"]},"legend":null}}},
{"transform":[{"filter":"datum.p==='F' && isValid(datum.e)"}],"mark":{"type":"rule","strokeWidth":1},"encoding":{"y2":{"field":"e"},"color":{"field":"s","scale":{"domain":["CerS6 WT 0h","CerS6 null 0h","CerS6 WT 46h","CerS6 null 46h"],"range":["#8f8f8f","#111111","#a8a8a8","#222222"]},"legend":null}}},
{"transform":[{"filter":"datum.p==='F' && isValid(datum.e)"}],"mark":{"type":"tick","thickness":1,"size":10},"encoding":{"y":{"field":"e","type":"quantitative","title":"C24-Cer [nmol/ug]"},"color":{"field":"s","scale":{"domain":["CerS6 WT 0h","CerS6 null 0h","CerS6 WT 46h","CerS6 null 46h"],"range":["#8f8f8f","#111111","#a8a8a8","#222222"]},"legend":null}}},
{"transform":[{"filter":"datum.p==='F'"}],"mark":{"type":"point","filled":true,"opacity":1,"strokeWidth":1},"encoding":{"shape":{"field":"s","scale":{"domain":["CerS6 WT 0h","CerS6 null 0h","CerS6 WT 46h","CerS6 null 46h"],"range":["circle","triangle-up","circle","triangle-up"]},"legend":null},"fill":{"field":"s","scale":{"domain":["CerS6 WT 0h","CerS6 null 0h","CerS6 WT 46h","CerS6 null 46h"],"range":["#a4a4a4","#111111","#ffffff","#ffffff"]},"legend":null},"stroke":{"field":"s","scale":{"domain":["CerS6 WT 0h","CerS6 null 0h","CerS6 WT 46h","CerS6 null 46h"],"range":["#a4a4a4","#111111","#8c8c8c","#333333"]},"legend":null},"size":{"field":"s","scale":{"type":"ordinal","domain":["CerS6 WT 0h","CerS6 null 0h","CerS6 WT 46h","CerS6 null 46h"],"range":[81,110,81,110]},"legend":null}}},
{"transform":[{"filter":"false"}],"mark":{"type":"point","filled":true,"opacity":1,"strokeWidth":1},"encoding":{"shape":{"field":"s","scale":{"domain":["CerS6 WT 0h","CerS6 null 0h","CerS6 WT 46h","CerS6 null 46h"],"range":["M-2.4,0L-0.9,0M0.9,0L2.4,0M-0.9,0A0.9,0.9,0,1,0,0.9,0A0.9,0.9,0,1,0,-0.9,0Z","M-2.4,0.35L-0.78,0.35M0.78,0.35L2.4,0.35M0,-1L1.1,0.9L-1.1,0.9Z","M-2.4,0L-0.9,0M0.9,0L2.4,0M-0.9,0A0.9,0.9,0,1,0,0.9,0A0.9,0.9,0,1,0,-0.9,0Z","M-2.4,0.35L-0.78,0.35M0.78,0.35L2.4,0.35M0,-1L1.1,0.9L-1.1,0.9Z"]},"legend":{"title":null,"legendX":164.5,"legendY":10.5}},"fill":{"field":"s","scale":{"domain":["CerS6 WT 0h","CerS6 null 0h","CerS6 WT 46h","CerS6 null 46h"],"range":["#a4a4a4","#111111","#ffffff","#ffffff"]},"legend":{"title":null,"legendX":164.5,"legendY":10.5}},"stroke":{"field":"s","scale":{"domain":["CerS6 WT 0h","CerS6 null 0h","CerS6 WT 46h","CerS6 null 46h"],"range":["#a4a4a4","#111111","#8c8c8c","#333333"]},"legend":{"title":null,"legendX":164.5,"legendY":10.5}}}},
{"data":{"name":"ann"},"transform":[{"filter":"datum.p==='F'"}],"mark":{"type":"text","fontSize":8,"color":"#555555"},"encoding":{"text":{"field":"t"}}}
],
"resolve":{"scale":{"shape":"independent","fill":"independent","stroke":"independent","size":"independent"}}}
],"spacing":16},

{"hconcat":[
{"width":309,"height":204,"title":{"text":"G)","dx":-64},"data":{"name":"pts"},
"encoding":{"x":{"field":"f","type":"ordinal","scale":{"type":"point","padding":0.5},"axis":{"title":"Fraction"}},"y":{"field":"y","type":"quantitative","title":"C16-LacCer [nmol/ug]","scale":{"domain":[0,6]},"axis":{"values":[0,2,4,6]}}},
"layer":[
{"transform":[{"filter":"datum.p==='G'"}],"mark":{"type":"line","strokeWidth":1},"encoding":{"stroke":{"field":"s","scale":{"domain":["CerS6 WT 0h (n.d.)","CerS6 null 0h (n.d.)","CerS6 WT 46h","CerS6 null 46h"],"range":["#a9a9a9","#222222","#b5b5b5","#3a3a3a"]},"legend":null}}},
{"transform":[{"filter":"datum.p==='G' && isValid(datum.e)"}],"mark":{"type":"rule","strokeWidth":1},"encoding":{"y2":{"field":"e"},"color":{"field":"s","scale":{"domain":["CerS6 WT 0h (n.d.)","CerS6 null 0h (n.d.)","CerS6 WT 46h","CerS6 null 46h"],"range":["#8f8f8f","#111111","#a8a8a8","#222222"]},"legend":null}}},
{"transform":[{"filter":"datum.p==='G' && isValid(datum.e)"}],"mark":{"type":"tick","thickness":1,"size":10},"encoding":{"y":{"field":"e","type":"quantitative","title":"C16-LacCer [nmol/ug]"},"color":{"field":"s","scale":{"domain":["CerS6 WT 0h (n.d.)","CerS6 null 0h (n.d.)","CerS6 WT 46h","CerS6 null 46h"],"range":["#8f8f8f","#111111","#a8a8a8","#222222"]},"legend":null}}},
{"transform":[{"filter":"datum.p==='G'"}],"mark":{"type":"point","filled":true,"opacity":1,"strokeWidth":1},"encoding":{"shape":{"field":"s","scale":{"domain":["CerS6 WT 0h (n.d.)","CerS6 null 0h (n.d.)","CerS6 WT 46h","CerS6 null 46h"],"range":["circle","triangle-up","circle","triangle-up"]},"legend":null},"fill":{"field":"s","scale":{"domain":["CerS6 WT 0h (n.d.)","CerS6 null 0h (n.d.)","CerS6 WT 46h","CerS6 null 46h"],"range":["#a4a4a4","#111111","#ffffff","#ffffff"]},"legend":null},"stroke":{"field":"s","scale":{"domain":["CerS6 WT 0h (n.d.)","CerS6 null 0h (n.d.)","CerS6 WT 46h","CerS6 null 46h"],"range":["#a4a4a4","#111111","#a0a0a0","#333333"]},"legend":null},"size":{"field":"s","scale":{"type":"ordinal","domain":["CerS6 WT 0h (n.d.)","CerS6 null 0h (n.d.)","CerS6 WT 46h","CerS6 null 46h"],"range":[81,110,81,110]},"legend":null}}},
{"transform":[{"filter":"false"}],"mark":{"type":"point","filled":true,"opacity":1,"strokeWidth":1},"encoding":{"shape":{"field":"s","scale":{"domain":["CerS6 WT 0h (n.d.)","CerS6 null 0h (n.d.)","CerS6 WT 46h","CerS6 null 46h"],"range":["M-2.4,0L-0.9,0M0.9,0L2.4,0M-0.9,0A0.9,0.9,0,1,0,0.9,0A0.9,0.9,0,1,0,-0.9,0Z","M-2.4,0.35L-0.78,0.35M0.78,0.35L2.4,0.35M0,-1L1.1,0.9L-1.1,0.9Z","M-2.4,0L-0.9,0M0.9,0L2.4,0M-0.9,0A0.9,0.9,0,1,0,0.9,0A0.9,0.9,0,1,0,-0.9,0Z","M-2.4,0.35L-0.78,0.35M0.78,0.35L2.4,0.35M0,-1L1.1,0.9L-1.1,0.9Z"]},"legend":{"title":null,"legendX":164.5,"legendY":-0.5}},"fill":{"field":"s","scale":{"domain":["CerS6 WT 0h (n.d.)","CerS6 null 0h (n.d.)","CerS6 WT 46h","CerS6 null 46h"],"range":["#a4a4a4","#111111","#ffffff","#ffffff"]},"legend":{"title":null,"legendX":164.5,"legendY":-0.5}},"stroke":{"field":"s","scale":{"domain":["CerS6 WT 0h (n.d.)","CerS6 null 0h (n.d.)","CerS6 WT 46h","CerS6 null 46h"],"range":["#a4a4a4","#111111","#a0a0a0","#333333"]},"legend":{"title":null,"legendX":164.5,"legendY":-0.5}}}},
{"data":{"name":"ann"},"transform":[{"filter":"datum.p==='G'"}],"mark":{"type":"text","fontSize":8,"color":"#555555"},"encoding":{"text":{"field":"t"}}}
],
"resolve":{"scale":{"shape":"independent","fill":"independent","stroke":"independent","size":"independent"}}},

{"width":309,"height":204,"title":{"text":"H)","dx":-68},"data":{"name":"pts"},
"encoding":{"x":{"field":"f","type":"ordinal","scale":{"type":"point","padding":0.5},"axis":{"title":"Fraction"}},"y":{"field":"y","type":"quantitative","title":"C24-LacCer [nmol/ug]","scale":{"domain":[0,4]},"axis":{"values":[0,1,2,3,4]}}},
"layer":[
{"transform":[{"filter":"datum.p==='H'"}],"mark":{"type":"line","strokeWidth":1},"encoding":{"stroke":{"field":"s","scale":{"domain":["CerS6 WT 0h (n.d.)","CerS6 null 0h (n.d.)","CerS6 WT 46h","CerS6 null 46h"],"range":["#a9a9a9","#222222","#b5b5b5","#3a3a3a"]},"legend":null}}},
{"transform":[{"filter":"datum.p==='H' && isValid(datum.e)"}],"mark":{"type":"rule","strokeWidth":1},"encoding":{"y2":{"field":"e"},"color":{"field":"s","scale":{"domain":["CerS6 WT 0h (n.d.)","CerS6 null 0h (n.d.)","CerS6 WT 46h","CerS6 null 46h"],"range":["#8f8f8f","#111111","#a8a8a8","#222222"]},"legend":null}}},
{"transform":[{"filter":"datum.p==='H' && isValid(datum.e)"}],"mark":{"type":"tick","thickness":1,"size":10},"encoding":{"y":{"field":"e","type":"quantitative","title":"C24-LacCer [nmol/ug]"},"color":{"field":"s","scale":{"domain":["CerS6 WT 0h (n.d.)","CerS6 null 0h (n.d.)","CerS6 WT 46h","CerS6 null 46h"],"range":["#8f8f8f","#111111","#a8a8a8","#222222"]},"legend":null}}},
{"transform":[{"filter":"datum.p==='H'"}],"mark":{"type":"point","filled":true,"opacity":1,"strokeWidth":1},"encoding":{"shape":{"field":"s","scale":{"domain":["CerS6 WT 0h (n.d.)","CerS6 null 0h (n.d.)","CerS6 WT 46h","CerS6 null 46h"],"range":["circle","triangle-up","circle","triangle-up"]},"legend":null},"fill":{"field":"s","scale":{"domain":["CerS6 WT 0h (n.d.)","CerS6 null 0h (n.d.)","CerS6 WT 46h","CerS6 null 46h"],"range":["#a4a4a4","#111111","#ffffff","#ffffff"]},"legend":null},"stroke":{"field":"s","scale":{"domain":["CerS6 WT 0h (n.d.)","CerS6 null 0h (n.d.)","CerS6 WT 46h","CerS6 null 46h"],"range":["#a4a4a4","#111111","#a0a0a0","#333333"]},"legend":null},"size":{"field":"s","scale":{"type":"ordinal","domain":["CerS6 WT 0h (n.d.)","CerS6 null 0h (n.d.)","CerS6 WT 46h","CerS6 null 46h"],"range":[81,110,81,110]},"legend":null}}},
{"transform":[{"filter":"false"}],"mark":{"type":"point","filled":true,"opacity":1,"strokeWidth":1},"encoding":{"shape":{"field":"s","scale":{"domain":["CerS6 WT 0h (n.d.)","CerS6 null 0h (n.d.)","CerS6 WT 46h","CerS6 null 46h"],"range":["M-2.4,0L-0.9,0M0.9,0L2.4,0M-0.9,0A0.9,0.9,0,1,0,0.9,0A0.9,0.9,0,1,0,-0.9,0Z","M-2.4,0.35L-0.78,0.35M0.78,0.35L2.4,0.35M0,-1L1.1,0.9L-1.1,0.9Z","M-2.4,0L-0.9,0M0.9,0L2.4,0M-0.9,0A0.9,0.9,0,1,0,0.9,0A0.9,0.9,0,1,0,-0.9,0Z","M-2.4,0.35L-0.78,0.35M0.78,0.35L2.4,0.35M0,-1L1.1,0.9L-1.1,0.9Z"]},"legend":{"title":null,"legendX":165.5,"legendY":-1.5}},"fill":{"field":"s","scale":{"domain":["CerS6 WT 0h (n.d.)","CerS6 null 0h (n.d.)","CerS6 WT 46h","CerS6 null 46h"],"range":["#a4a4a4","#111111","#ffffff","#ffffff"]},"legend":{"title":null,"legendX":165.5,"legendY":-1.5}},"stroke":{"field":"s","scale":{"domain":["CerS6 WT 0h (n.d.)","CerS6 null 0h (n.d.)","CerS6 WT 46h","CerS6 null 46h"],"range":["#a4a4a4","#111111","#a0a0a0","#333333"]},"legend":{"title":null,"legendX":165.5,"legendY":-1.5}}}},
{"data":{"name":"ann"},"transform":[{"filter":"datum.p==='H'"}],"mark":{"type":"text","fontSize":8,"color":"#555555"},"encoding":{"text":{"field":"t"}}}
],
"resolve":{"scale":{"shape":"independent","fill":"independent","stroke":"independent","size":"independent"}}}
],"spacing":16}
],"spacing":14}
],
"spacing":50,
"config":{
"font":"DejaVu Sans",
"view":{"stroke":null},
"axis":{"grid":false,"domainColor":"#333333","domainWidth":1.2,"tickColor":"#333333","tickSize":4,"tickWidth":1.2,"labelColor":"#444444","labelFontSize":9,"labelFont":"DejaVu Sans","titleColor":"#444444","titleFontSize":10,"titleFontWeight":"normal","titleFont":"DejaVu Sans","labelPadding":8},
"axisX":{"labelAngle":0,"labelPadding":11,"titlePadding":11},
"axisY":{"titlePadding":14},
"title":{"fontSize":28,"fontWeight":"normal","font":"Open Sans","anchor":"start","frame":"group","orient":"top","baseline":"top","offset":-29,"color":"#111111"},
"legend":{"orient":"none","padding":0,"labelFontSize":10,"labelColor":"#555555","labelFont":"DejaVu Sans","symbolSize":100,"symbolStrokeWidth":1,"rowPadding":12,"labelOffset":18}
}
}
